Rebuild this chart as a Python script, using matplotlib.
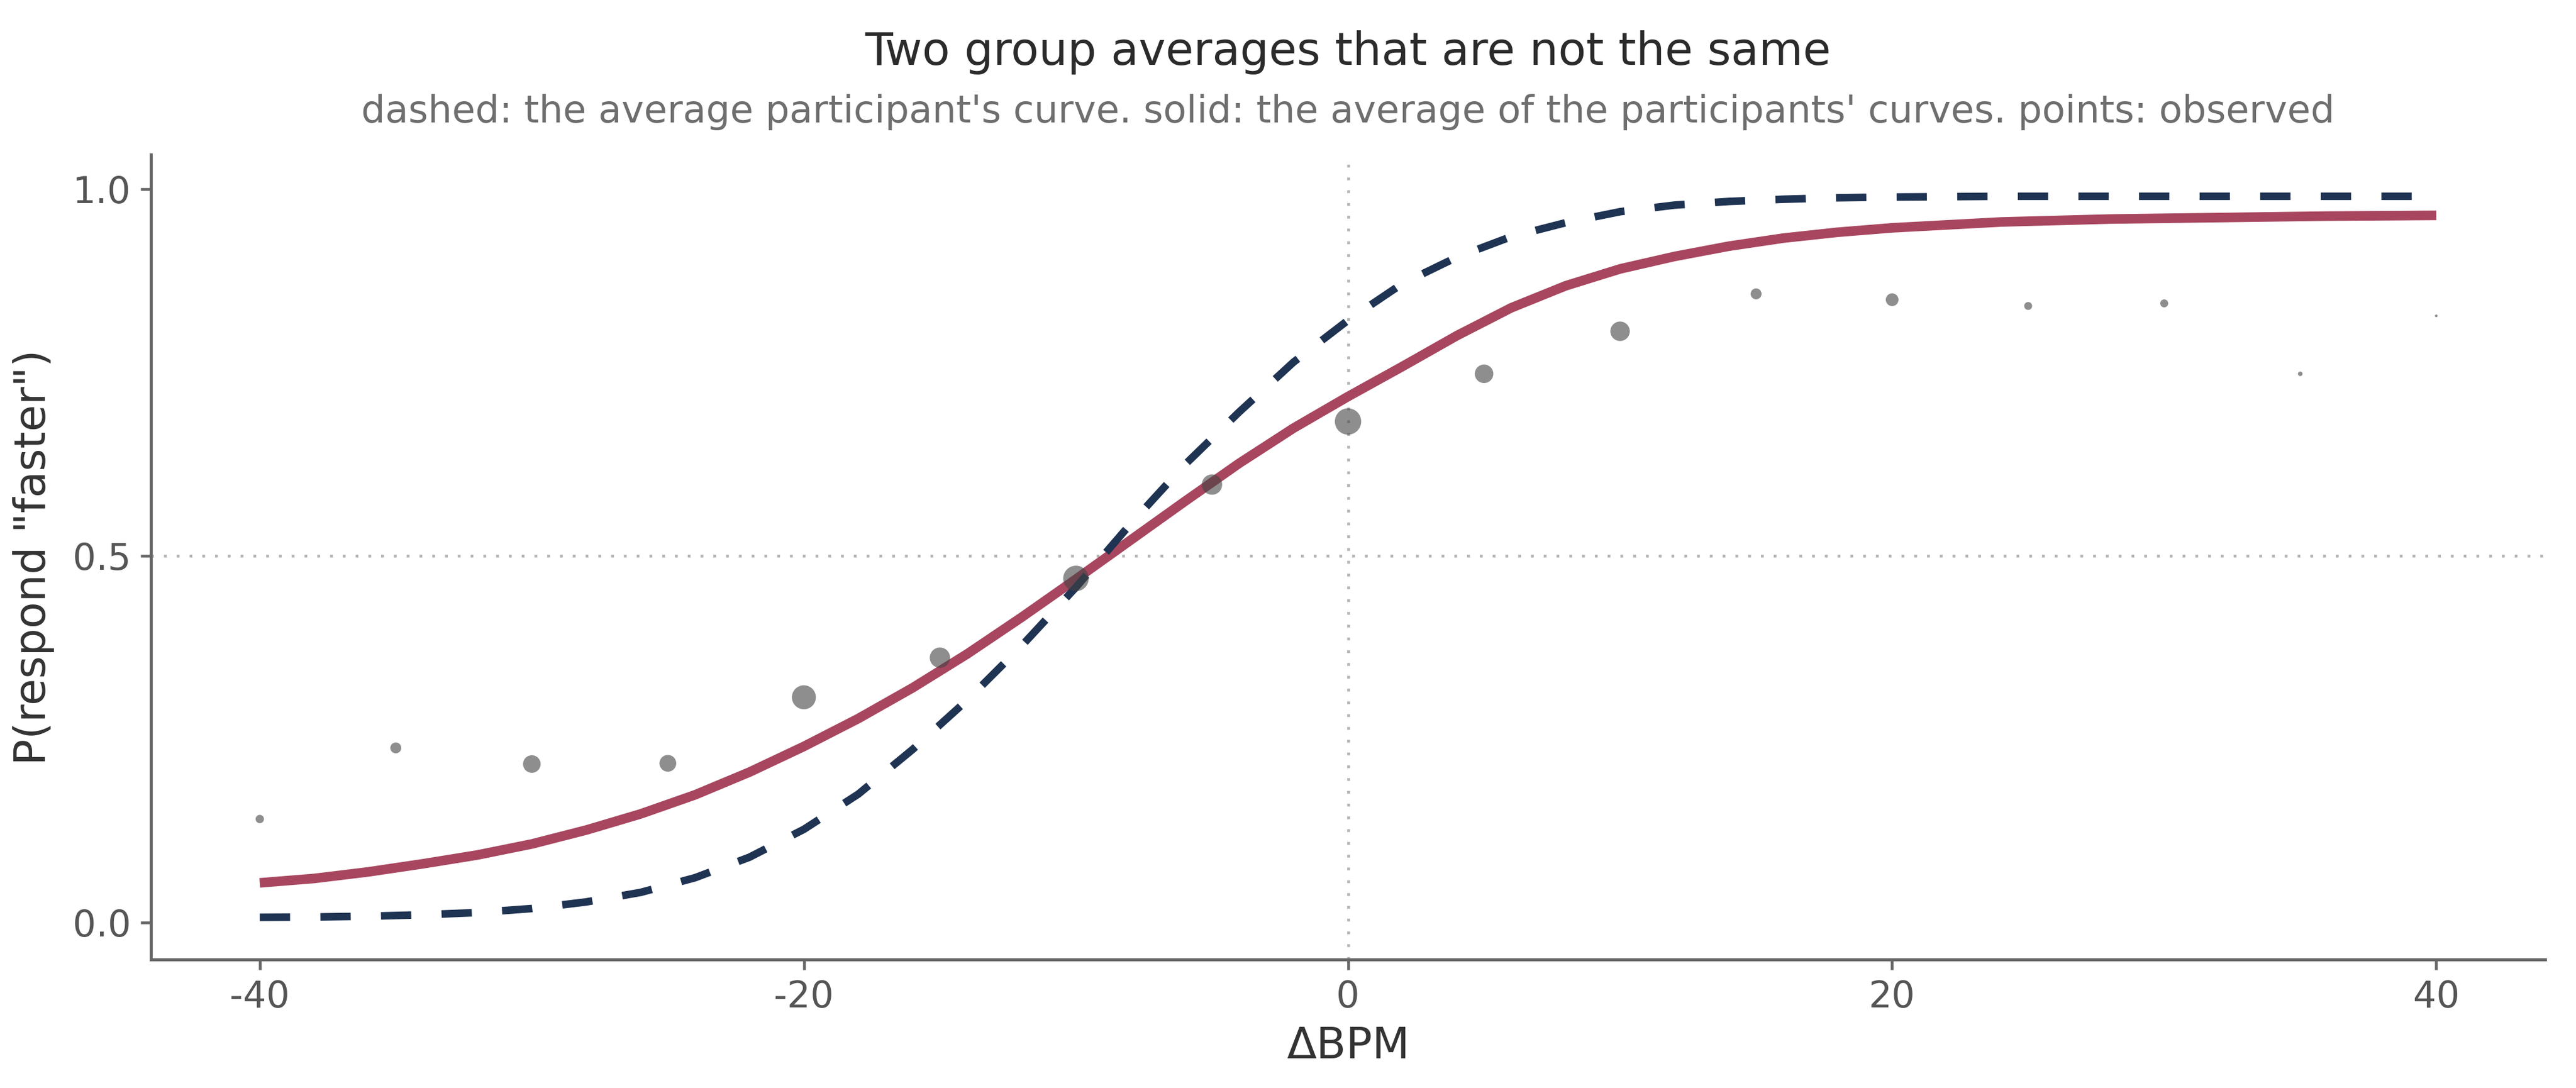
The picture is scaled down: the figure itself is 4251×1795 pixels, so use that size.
import matplotlib
matplotlib.use("Agg")
import matplotlib.pyplot as plt
import numpy as np

# ---- data ----
curve_x = [-40, -38, -36, -34, -32, -30, -28, -26, -24, -22, -20, -18, -16, -14, -12, -10,
           -8, -6, -4, -2, 0, 2, 4, 6, 8, 10, 12, 14, 16, 18, 20, 22, 24, 26, 28, 30,
           32, 34, 36, 38, 40]
# solid: average of the participants' curves
avg_of_curves = [0.054, 0.060, 0.069, 0.080, 0.092, 0.107, 0.126, 0.148, 0.174, 0.205,
                 0.240, 0.278, 0.320, 0.366, 0.416, 0.468, 0.521, 0.574, 0.626, 0.674,
                 0.717, 0.758, 0.800, 0.838, 0.868, 0.891, 0.908, 0.922, 0.933, 0.941,
                 0.947, 0.951, 0.955, 0.957, 0.959, 0.960, 0.961, 0.962, 0.963, 0.9635,
                 0.964]
# dashed: the average participant's curve
avg_participant = [0.007, 0.0075, 0.0085, 0.0105, 0.0135, 0.019, 0.028, 0.041, 0.061, 0.089,
                   0.127, 0.175, 0.236, 0.303, 0.377, 0.457, 0.543, 0.624, 0.696, 0.764,
                   0.821, 0.871, 0.907, 0.935, 0.954, 0.969, 0.978, 0.983, 0.986, 0.988,
                   0.989, 0.9895, 0.990, 0.990, 0.990, 0.990, 0.990, 0.990, 0.990, 0.990,
                   0.990]
obs_x = [-40, -35, -30, -25, -20, -15, -10, -5, 0, 5, 10, 15, 20, 25, 30, 35, 40]
obs_p = [0.141, 0.238, 0.216, 0.217, 0.307, 0.361, 0.469, 0.597, 0.683, 0.748, 0.806,
         0.857, 0.849, 0.8405, 0.844, 0.748, 0.827]
obs_n = [10, 17, 44, 40, 82, 59, 93, 59, 99, 49, 54, 17, 23, 9, 9, 3, 1]

x_ticks = [-40, -20, 0, 20, 40]
x_ticklabels = ["-40", "-20", "0", "20", "40"]
y_ticks = [0.0, 0.5, 1.0]
y_ticklabels = ["0.0", "0.5", "1.0"]

title = "Two group averages that are not the same"
subtitle = ("dashed: the average participant's curve. solid: the average of the "
            "participants' curves. points: observed")

# ---- figure ----
plt.rcParams['font.family'] = ['DejaVu Sans']
fig = plt.figure(figsize=(4251 / 300, 1795 / 300), dpi=300)
ax = fig.add_axes([0.0586, 0.1181, 0.9294, 0.7399])

ax.axhline(0.5, color="#b3b3b3", lw=1.1, dashes=(1, 3.6), zorder=1)
ax.axvline(0, color="#b3b3b3", lw=1.1, dashes=(1, 3.6), zorder=1)

ax.plot(curve_x, avg_of_curves, color="#a8465f", lw=3.8, solid_capstyle="butt", zorder=2)
ax.plot(curve_x, avg_participant, color="#1f3352", lw=3.0, dashes=(4, 4),
        dash_capstyle="butt", zorder=3)
ax.scatter(obs_x, obs_p, s=[n * 1.1 for n in obs_n], color="#434343", alpha=0.6,
           edgecolors="none", zorder=4)

ax.set_xlim(-44, 44)
ax.set_ylim(-0.0505, 1.047)
ax.set_xticks(x_ticks)
ax.set_xticklabels(x_ticklabels)
ax.set_yticks(y_ticks)
ax.set_yticklabels(y_ticklabels)

for side in ["top", "right"]:
    ax.spines[side].set_visible(False)
for side in ["left", "bottom"]:
    ax.spines[side].set_color("#666666")
    ax.spines[side].set_linewidth(1.2)
ax.tick_params(axis="both", colors="#666666", length=4, width=1.1, labelsize=14.5,
               labelcolor="#555555", pad=4)

ax.set_xlabel("\u0394BPM", fontsize=17.2, color="#333333", labelpad=4)
ax.set_ylabel('P(respond "faster")', fontsize=17.2, color="#333333", labelpad=7)

fig.text(0.5233, 0.952, title, ha="center", va="center", fontsize=18, color="#2b2b2b")
fig.text(0.5233, 0.897, subtitle, ha="center", va="center", fontsize=15, color="#6e6e6e")

fig.savefig("out.png", dpi=300, facecolor="white")
